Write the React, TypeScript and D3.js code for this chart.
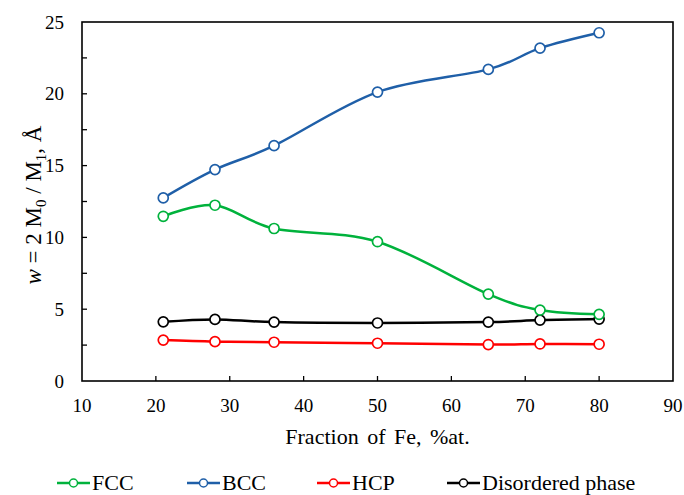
import * as d3 from "d3";
import { useEffect, useRef } from "react";

// Fraction of Fe, %at.
const feFraction = [21, 28, 36, 50, 65, 72, 80];

const fccValues = [11.47, 12.24, 10.62, 9.7, 6.05, 4.94, 4.64];
const bccValues = [12.75, 14.72, 16.39, 20.12, 21.7, 23.18, 24.25];
const hcpValues = [2.85, 2.74, 2.7, 2.63, 2.54, 2.58, 2.56];
const disorderedValues = [4.12, 4.29, 4.1, 4.04, 4.1, 4.24, 4.31];

const seriesNames = ["FCC", "BCC", "HCP", "Disordered phase"];
const seriesColors = ["#00b23c", "#1f5fa8", "#ff0000", "#000000"];

const xTicks = [10, 20, 30, 40, 50, 60, 70, 80, 90];
const yTicks = [0, 5, 10, 15, 20, 25];
const yMinorTicks = [2.5, 7.5, 12.5, 17.5, 22.5];

const FONT = "Liberation Serif";

export default function App() {
	const ref = useRef<SVGSVGElement>(null);

	useEffect(() => {
		const svg = d3.select(ref.current);
		svg.selectAll("*").remove();

		const width = 684;
		const height = 495;
		const left = 82;
		const right = 673;
		const top = 22;
		const bottom = 381;

		const x = d3.scaleLinear().domain([10, 90]).range([left, right]);
		const y = d3.scaleLinear().domain([0, 25]).range([bottom, top]);

		svg.attr("width", width).attr("height", height).style("font-family", FONT);

		// frame
		svg.append("rect")
			.attr("x", left).attr("y", top)
			.attr("width", right - left).attr("height", bottom - top)
			.attr("fill", "none").attr("stroke", "#000").attr("stroke-width", 1.6);

		// ticks (inside)
		const tickG = svg.append("g").attr("stroke", "#000").attr("stroke-width", 1.3);
		tickG.selectAll("line.xt").data(xTicks.slice(1, -1)).join("line")
			.attr("x1", d => x(d)).attr("x2", d => x(d))
			.attr("y1", bottom).attr("y2", bottom - 5);
		tickG.selectAll("line.yt").data([...yTicks.slice(1, -1), ...yMinorTicks]).join("line")
			.attr("x1", left).attr("x2", left + 5)
			.attr("y1", d => y(d)).attr("y2", d => y(d));

		// tick labels
		svg.append("g").selectAll("text").data(xTicks).join("text")
			.attr("x", d => x(d)).attr("y", 412)
			.attr("text-anchor", "middle")
			.attr("font-size", 19)
			.text(d => d);
		svg.append("g").selectAll("text").data(yTicks).join("text")
			.attr("x", 64).attr("y", d => y(d) + 6.5)
			.attr("text-anchor", "end")
			.attr("font-size", 19)
			.text(d => d);

		// axis titles
		svg.append("text")
			.attr("x", (left + right) / 2).attr("y", 444)
			.attr("text-anchor", "middle")
			.attr("font-size", 22)
			.attr("word-spacing", 3)
			.text("Fraction of Fe, %at.");

		const yTitle = svg.append("text")
			.attr("transform", `translate(41,205) rotate(-90)`)
			.attr("text-anchor", "middle")
			.attr("font-size", 23);
		yTitle.append("tspan").attr("font-style", "italic").text("w");
		yTitle.append("tspan").text(" = 2 M");
		yTitle.append("tspan").attr("font-size", 15).attr("dy", 5).text("0");
		yTitle.append("tspan").attr("dy", -5).text(" / M");
		yTitle.append("tspan").attr("font-size", 15).attr("dy", 5).text("1");
		yTitle.append("tspan").attr("dy", -5).text(", Å");

		// series
		const allSeries = [fccValues, bccValues, hcpValues, disorderedValues];
		const line = d3.line<[number, number]>()
			.x(d => x(d[0])).y(d => y(d[1]))
			.curve(d3.curveCardinal.tension(0));

		// draw order: disordered, hcp, fcc, bcc
		[3, 2, 0, 1].forEach(i => {
			const pts = feFraction.map((f, j) => [f, allSeries[i][j]] as [number, number]);
			const g = svg.append("g");
			g.append("path").datum(pts)
				.attr("fill", "none").attr("stroke", seriesColors[i])
				.attr("stroke-width", 2.5).attr("d", line);
			g.selectAll("circle").data(pts).join("circle")
				.attr("cx", d => x(d[0])).attr("cy", d => y(d[1]))
				.attr("r", 5).attr("fill", "#fff")
				.attr("stroke", seriesColors[i]).attr("stroke-width", 1.7);
		});

		// legend
		const legendX = d3.scaleLinear().domain([0, 3]).range([57, 447]);
		const legendY = 483;
		seriesNames.forEach((name, i) => {
			const lx = legendX(i);
			const g = svg.append("g");
			g.append("line")
				.attr("x1", lx).attr("x2", lx + 33)
				.attr("y1", legendY).attr("y2", legendY)
				.attr("stroke", seriesColors[i]).attr("stroke-width", 2.5);
			g.append("circle")
				.attr("cx", lx + 16.5).attr("cy", legendY).attr("r", 4)
				.attr("fill", "#fff").attr("stroke", seriesColors[i]).attr("stroke-width", 1.5);
			g.append("text")
				.attr("x", lx + 35).attr("y", legendY + 7)
				.attr("font-size", 22)
				.text(name);
		});
	}, []);

	return (
		<svg ref={ref} style={{ position: "absolute", left: 0, top: 0, background: "#fff" }} />
	);
}
